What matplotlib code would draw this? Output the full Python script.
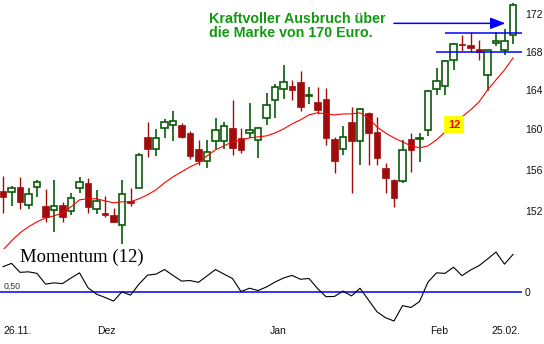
import matplotlib
matplotlib.use('Agg')
import matplotlib.pyplot as plt
from matplotlib.patches import Rectangle
from matplotlib.ticker import FixedLocator, FixedFormatter, NullLocator

plt.rcParams['font.family'] = ['Liberation Sans', 'DejaVu Sans']

# daily candles 26.11. - 25.02.
opens = [153.96, 153.86, 154.34, 152.61, 154.34, 152.51, 152.12, 152.61, 152.03, 154.25,
         154.73, 152.22, 151.84, 151.65, 150.71, 152.99, 154.25, 159.25, 158.06, 160.14,
         160.45, 160.45, 159.64, 158.06, 156.87, 158.85, 158.85, 160.14, 159.15, 159.64,
         158.95, 161.16, 162.99, 164.10, 164.42, 164.83, 163.39, 162.78, 163.09, 159.05,
         158.06, 160.75, 158.85, 161.67, 159.74, 156.18, 155.02, 154.92, 159.05, 159.05,
         159.94, 164.10, 164.42, 167.12, 168.80, 168.70, 168.27, 165.56, 168.91, 168.16,
         169.76]
highs = [155.40, 154.44, 155.31, 154.25, 155.02, 154.15, 155.02, 152.90, 153.77, 155.31,
         155.21, 154.05, 153.48, 152.32, 155.02, 154.25, 157.66, 160.75, 160.04, 161.06,
         161.87, 160.65, 159.84, 158.95, 158.95, 161.16, 160.75, 162.99, 160.14, 162.68,
         160.24, 163.70, 164.62, 166.60, 165.04, 165.98, 164.31, 164.31, 164.21, 159.25,
         160.35, 162.28, 162.17, 161.77, 161.26, 156.67, 155.10, 158.95, 159.64, 159.64,
         163.95, 166.29, 167.08, 168.91, 169.76, 170.08, 169.23, 168.20, 170.08, 170.40,
         173.19]
lows = [151.84, 152.51, 152.22, 152.22, 153.38, 150.99, 150.05, 150.99, 151.65, 153.77,
        151.84, 151.74, 151.46, 150.95, 148.92, 152.51, 154.20, 157.27, 157.37, 159.15,
        158.85, 159.15, 157.07, 156.48, 156.18, 158.06, 158.06, 157.47, 157.66, 159.15,
        157.17, 160.45, 161.16, 163.09, 162.99, 161.87, 162.58, 161.56, 158.46, 155.69,
        157.47, 153.77, 156.48, 156.48, 156.48, 153.77, 152.41, 154.73, 155.79, 156.77,
        159.35, 163.49, 163.49, 166.08, 168.06, 167.95, 167.12, 163.90, 168.59, 167.64,
        168.80]
closes = [153.38, 154.25, 152.90, 153.67, 154.82, 151.46, 152.51, 151.46, 153.28, 154.82,
          152.41, 152.99, 151.65, 150.99, 153.67, 152.80, 157.46, 158.06, 159.15, 160.75,
          160.85, 159.25, 157.37, 156.87, 157.76, 159.94, 160.35, 158.16, 157.96, 159.94,
          160.14, 162.48, 164.31, 164.83, 164.00, 162.28, 163.49, 161.97, 159.15, 156.87,
          159.25, 158.85, 162.07, 159.64, 157.17, 155.21, 153.28, 157.96, 157.96, 159.15,
          163.90, 164.93, 167.03, 168.80, 168.70, 168.38, 167.95, 168.16, 169.12, 169.12,
          172.96]
ma12 = [148.35, 149.20, 149.95, 150.52, 150.99, 151.36, 151.55, 151.84, 152.41, 153.09,
        153.19, 153.19, 152.99, 152.80, 152.90, 152.90, 153.19, 153.57, 154.05, 154.73,
        155.31, 155.79, 156.28, 156.67, 157.37, 157.96, 158.36, 158.75, 158.95, 159.15,
        159.25, 159.35, 159.64, 160.04, 160.55, 160.96, 161.46, 161.67, 161.56, 161.46,
        161.56, 161.56, 161.67, 161.16, 160.24, 159.64, 159.15, 158.75, 158.36, 158.16,
        158.36, 158.95, 159.74, 160.55, 161.26, 161.97, 162.78, 164.00, 165.04, 166.08,
        167.33]
momentum = [10.0, 11.3, 7.8, 8.0, 7.4, 3.2, 3.7, 3.4, 5.6, 7.6,
            1.8, -0.7, -2.0, -3.4, 0.2, -1.1, 3.2, 6.7, 7.1, 8.9,
            6.6, 4.4, 4.6, 3.9, 6.4, 8.9, 7.1, 5.4, 0.3, 1.6,
            0.7, 2.1, 4.0, 5.6, 6.6, 5.1, 5.4, 1.5, -1.7, -1.6,
            0.5, -1.4, 1.6, -3.0, -7.6, -9.9, -11.2, -5.2, -5.9, -3.6,
            4.0, 7.6, 7.4, 9.8, 6.5, 8.7, 10.4, 13.0, 15.7, 11.0,
            14.8]

date_pos = [0, 12.2, 32.4, 51.3, 59.2]
date_labels = ['26.11.', 'Dez', 'Jan', 'Feb', '25.02.']
price_ticks = [152, 156, 160, 164, 168, 172]

breakout_level = 170
support_level = 168
arrow_level = 171
arrow_start, arrow_end = 46.0, 59.1
ma_label_pos = (53.06, 160.45)

red = '#a00c0c'
green = '#0b5a0b'
blue = '#0000ff'

W, H = 544, 344
fig = plt.figure(figsize=(W / 100, H / 100), dpi=100)
right_px = 522
ax = fig.add_axes([0, (H - 249) / H, right_px / W, 249 / H])
axm = fig.add_axes([0, (H - 325) / H, right_px / W, 77 / H])

xmin = -3 / 8.5
xmax = xmin + right_px / 8.5
n = len(closes)
xs = list(range(n))

# candles
bw = 0.72
for i in xs:
    o, h, l, c = opens[i], highs[i], lows[i], closes[i]
    if c < o:
        ax.vlines(i, l, h, color=red, lw=1.0, zorder=2)
        ax.add_patch(Rectangle((i - bw / 2, c), bw, o - c, facecolor=red,
                               edgecolor=red, lw=0.5, zorder=3))
    else:
        ax.vlines(i, l, h, color=green, lw=1.2, zorder=2)
        ax.add_patch(Rectangle((i - bw / 2, o), bw, c - o, facecolor='white',
                               edgecolor=green, lw=1.2, zorder=3))

ax.plot(xs, ma12, color='#ff0000', lw=0.8, zorder=4)

# breakout marks
ax.hlines(breakout_level, 52, xmax, color=blue, lw=1.1, zorder=5)
ax.hlines(support_level, 50.9, xmax, color=blue, lw=1.1, zorder=5)
ax.annotate('', xy=(arrow_end, arrow_level), xytext=(arrow_start, arrow_level),
            arrowprops=dict(arrowstyle='-|>,head_length=0.9,head_width=0.35',
                            color=blue, lw=1.1, shrinkA=0, shrinkB=0), zorder=5)
ax.text(0.4004, 0.951, 'Kraftvoller Ausbruch über\ndie Marke von 170 Euro.',
        transform=ax.transAxes, ha='left', va='top', color='#129a12',
        fontsize=10.3, fontweight='bold', linespacing=1.0, zorder=6)
ax.text(ma_label_pos[0], ma_label_pos[1], '12', ha='center', va='center',
        color='#ff0000', fontsize=8, fontweight='bold', zorder=6,
        bbox=dict(boxstyle='square,pad=0.32', facecolor='#ffff00', edgecolor='none'))

ax.set_yscale('log')
ax.set_xlim(xmin, xmax)
ax.set_ylim(148.44, 173.52)
ax.yaxis.set_major_locator(FixedLocator(price_ticks))
ax.yaxis.set_major_formatter(FixedFormatter([str(t) for t in price_ticks]))
ax.yaxis.set_minor_locator(NullLocator())
ax.yaxis.tick_right()
ax.tick_params(axis='y', length=0, pad=2, labelsize=7.5, colors='#111111')
ax.set_xticks([])
for s in ax.spines.values():
    s.set_visible(False)
ax.patch.set_alpha(0)

# momentum panel
axm.axhline(0, color=blue, lw=1.1, zorder=1)
axm.plot(xs, momentum, color='black', lw=0.8, zorder=2)
axm.set_xlim(xmin, xmax)
axm.set_ylim(-12.75, 17.3)
axm.yaxis.tick_right()
axm.set_yticks([0])
axm.set_yticklabels(['0'])
axm.tick_params(axis='y', length=0, pad=2, labelsize=7.5, colors='#111111')
axm.set_xticks(date_pos)
axm.set_xticklabels(date_labels)
axm.tick_params(axis='x', length=0, pad=1, labelsize=7.5, colors='#111111')
axm.get_xticklabels()[0].set_ha('left')
for s in axm.spines.values():
    s.set_visible(False)
axm.patch.set_alpha(0)
axm.text(0.006, 0.5, '0,50', transform=axm.transAxes, ha='left', va='center',
         fontsize=6.3, color='#333333')
axm.text(20.5 / right_px, 0.877, 'Momentum (12)', transform=axm.transAxes,
         ha='left', va='center', fontsize=13.5, family=['Liberation Serif', 'DejaVu Serif'])

fig.savefig('out.png', dpi=100, facecolor='white')
